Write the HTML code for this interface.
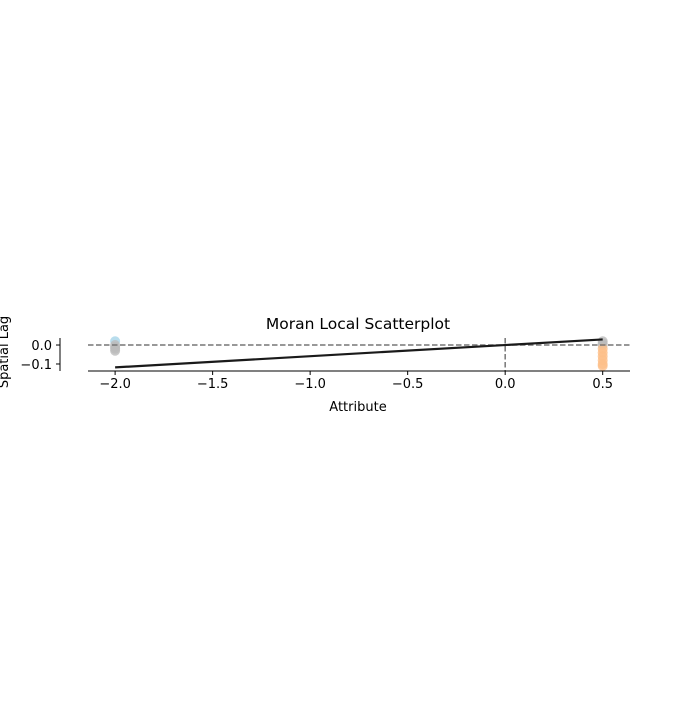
<!DOCTYPE html>
<html><head><meta charset="utf-8"><style>
body{margin:0;background:#fff;font-family:"Liberation Sans","DejaVu Sans",sans-serif;}
</style></head><body>
<svg id="chart" width="700" height="700" xmlns="http://www.w3.org/2000/svg" font-family="DejaVu Sans, Liberation Sans, sans-serif">
<rect width="700" height="700" fill="#fff"/>
</svg>
<script>
const xsLeft = [-2, -2, -2, -2, -2];
const ysLeft = [0.02, 0.0, -0.01, -0.02, -0.03];
const colorsLeft = ["#a6d4e8", "#bbbbbb", "#bbbbbb", "#bbbbbb", "#bbbbbb"];
const xsRight = [0.5, 0.5, 0.5, 0.5, 0.5, 0.5, 0.5, 0.5, 0.5];
const ysRight = [0.02, 0.01, 0.0, -0.02, -0.04, -0.06, -0.08, -0.1, -0.11];
const colorsRight = ["#bbbbbb","#bbbbbb","#bbbbbb","#fdbf8a","#fdbf8a","#fdbf8a","#fdbf8a","#fdbf8a","#fdbf8a"];
const xTicks = [-2.0, -1.5, -1.0, -0.5, 0.0, 0.5];
const xTickLabels = ["\u22122.0","\u22121.5","\u22121.0","\u22120.5","0.0","0.5"];
const yTicks = [0.0, -0.1];
const yTickLabels = ["0.0","\u22120.1"];
const regSlope = [0.059];
const regIntercept = [0.0];

const svg = document.getElementById('chart');
const NS = 'http://www.w3.org/2000/svg';
const X0 = 88, X1 = 630, Y0 = 338, Y1 = 371;
const xmin = -2.139, xmax = 0.64, ymin = -0.137, ymax = 0.037;
const sx = v => X0 + (v - xmin) / (xmax - xmin) * (X1 - X0);
const sy = v => Y1 - (v - ymin) / (ymax - ymin) * (Y1 - Y0);
function mk(tag, attrs, parent) { const e = document.createElementNS(NS, tag); for (const k in attrs) e.setAttribute(k, attrs[k]); (parent || svg).appendChild(e); return e; }

function pts(xs, ys, cols, name) {
  xs.forEach((x, i) => {
    const c = mk('circle', {cx: sx(x), cy: sy(ys[i]), r: 5, fill: cols[i], 'fill-opacity': 0.8});
    
    
  });
}
pts(xsLeft, ysLeft, colorsLeft, 'point-left');
pts(xsRight, ysRight, colorsRight, 'point-right');

let h = mk('line', {x1: X0, x2: X1, y1: sy(0), y2: sy(0), stroke: '#777', 'stroke-width': 1.5, 'stroke-dasharray': '5.5,2.5'});


let v = mk('line', {x1: sx(0), x2: sx(0), y1: Y0, y2: Y1, stroke: '#777', 'stroke-width': 1.5, 'stroke-dasharray': '5.5,2.5'});



let reg = mk('line', {x1: sx(-2), y1: sy(regIntercept[0] + regSlope[0] * -2), x2: sx(0.5), y2: sy(regIntercept[0] + regSlope[0] * 0.5), stroke: '#1a1a1a', 'stroke-width': 2.2});



let bs = mk('line', {x1: X0, x2: X1, y1: Y1, y2: Y1, stroke: '#000', 'stroke-width': 1});


let ls = mk('line', {x1: 60, x2: 60, y1: Y0, y2: Y1, stroke: '#000', 'stroke-width': 1});



xTicks.forEach((t, i) => {
  mk('line', {x1: sx(t), x2: sx(t), y1: Y1, y2: Y1 + 4, stroke: '#000'});
  const tx = mk('text', {x: sx(t), y: Y1 + 17, 'font-size': 13, 'text-anchor': 'middle'});
  tx.textContent = xTickLabels[i];
  
  
});
yTicks.forEach((t, i) => {
  mk('line', {x1: 56, x2: 60, y1: sy(t), y2: sy(t), stroke: '#000'});
  const tx = mk('text', {x: 52, y: sy(t) + 5, 'font-size': 13, 'text-anchor': 'end'});
  tx.textContent = yTickLabels[i];
  
  
});

let title = mk('text', {x: 358, y: 329, 'font-size': 15.5, 'text-anchor': 'middle'});
title.textContent = 'Moran Local Scatterplot';


let xl = mk('text', {x: 358, y: 411, 'font-size': 13, 'text-anchor': 'middle'});
xl.textContent = 'Attribute';


let yl = mk('text', {x: 8, y: 352, 'font-size': 13, 'text-anchor': 'middle', transform: 'rotate(-90 8 352)'});
yl.textContent = 'Spatial Lag';


</script>
</body></html>
